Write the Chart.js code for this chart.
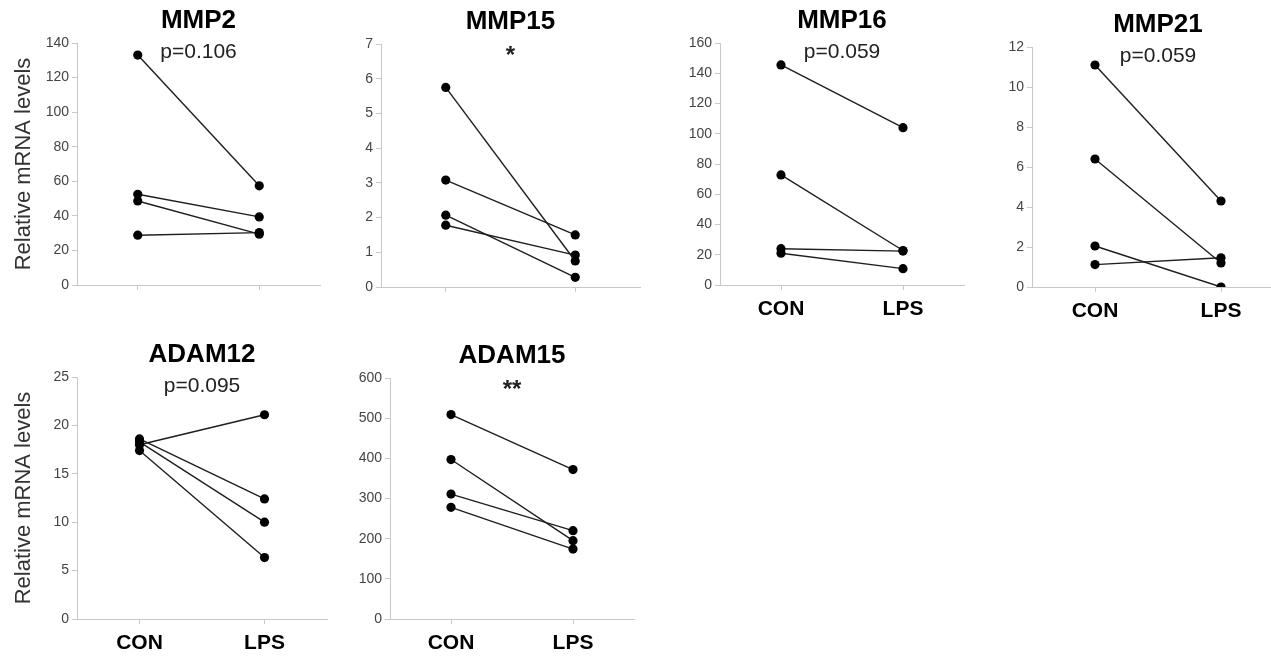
<!DOCTYPE html>
<html>
<head>
<meta charset="utf-8">
<script src="https://cdn.jsdelivr.net/npm/chart.js@4.4.1/dist/chart.umd.min.js"></script>
<style>
body{margin:0;background:#fff;overflow:hidden}
#wrap{position:relative;width:1271px;height:658px;overflow:hidden;background:#fff}
canvas{position:absolute}
</style>
</head>
<body>
<div id="wrap"></div>
<script>
// data: each row = one sample, [CON, LPS]
const groups = ["CON", "LPS"];
const genes = ["MMP2", "MMP15", "MMP16", "MMP21", "ADAM12", "ADAM15"];
const notes = ["p=0.106", "*", "p=0.059", "p=0.059", "p=0.095", "**"];
const yMax = [140, 7, 160, 12, 25, 600];
const ySteps = [20, 1, 20, 2, 5, 100];

const mmp2 = [[133, 57.4], [52.5, 39.4], [48.6, 29.4], [28.8, 30.3]];
const mmp15 = [[5.75, 0.75], [3.08, 1.5], [2.07, 0.28], [1.78, 0.92]];
const mmp16 = [[145.5, 104], [72.8, 22.8], [24, 22.4], [21, 10.8]];
const mmp21 = [[11.1, 4.3], [6.4, 1.2], [2.05, 0], [1.12, 1.46]];
const adam12 = [[18.0, 21.1], [18.6, 12.4], [18.3, 10.0], [17.4, 6.35]];
const adam15 = [[509, 372], [397, 195], [311, 220], [278, 174]];
const series = [mmp2, mmp15, mmp16, mmp21, adam12, adam15];

// layout: plot area of each panel (left, top, right, bottom) in page pixels
const areas = [
    [77, 43, 320, 285],
    [381, 44, 640, 287],
    [720, 43, 964, 285],
    [1032, 47, 1284, 287],
    [77, 377, 327, 619],
    [390, 378, 634, 619]
];
const showX = [false, false, true, true, true, true];
const showYTitle = [true, false, false, false, true, false];

const FONT = '"Liberation Sans", Arial, Helvetica, sans-serif';
Chart.defaults.font.family = FONT;

const YW = 77, TOPPAD = 43, RIGHTPAD = 10, XH = 40;

// gene name + p value / stars drawn over the top of each plot
const panelText = {
    id: "panelText",
    afterDraw(chart, args, opts) {
        const ctx = chart.ctx, a = chart.chartArea;
        const cx = (a.left + a.right) / 2;
        ctx.save();
        ctx.textAlign = "center";
        ctx.textBaseline = "middle";
        ctx.fillStyle = "#000";
        ctx.font = "bold 26px " + FONT;
        ctx.fillText(opts.title, cx, a.top - 22);
        ctx.fillStyle = "#222";
        if (opts.note.charAt(0) === "*") {
            ctx.font = "bold 24px " + FONT;
            ctx.fillText(opts.note, cx, a.top + 12);
        } else {
            ctx.font = "21px " + FONT;
            ctx.fillText(opts.note, cx, a.top + 9);
        }
        ctx.restore();
    }
};

const wrap = document.getElementById("wrap");

series.forEach(function(rows, i){
    const ar = areas[i];
    const canvas = document.createElement("canvas");
    const w = ar[2] - ar[0] + YW + RIGHTPAD;
    const h = ar[3] - ar[1] + TOPPAD + XH;
    canvas.width = w;
    canvas.height = h;
    canvas.style.left = (ar[0] - YW) + "px";
    canvas.style.top = (ar[1] - TOPPAD) + "px";
    canvas.style.width = w + "px";
    canvas.style.height = h + "px";
    wrap.appendChild(canvas);

    new Chart(canvas, {
        type: "line",
        data: {
            labels: groups,
            datasets: rows.map(function(r){
                return {
                    data: r,
                    borderColor: "#1e1e1e",
                    borderWidth: 1.4,
                    tension: 0,
                    pointRadius: 4.6,
                    pointBackgroundColor: "#000",
                    pointBorderWidth: 0,
                    fill: false
                };
            })
        },
        options: {
            responsive: false,
            animation: false,
            events: [],
            layout: { padding: { left: 0, top: TOPPAD, right: RIGHTPAD, bottom: 0 } },
            plugins: {
                legend: { display: false },
                tooltip: { enabled: false },
                panelText: { title: genes[i], note: notes[i] }
            },
            scales: {
                x: {
                    type: "category",
                    offset: true,
                    grid: { drawOnChartArea: false, tickLength: 5, color: "#c8c8c8" },
                    border: { color: "#c8c8c8" },
                    ticks: {
                        display: showX[i],
                        color: "#000",
                        font: { size: 21, weight: "bold" },
                        padding: 7
                    },
                    afterFit: function(s){ s.height = XH; }
                },
                y: {
                    min: 0,
                    max: yMax[i],
                    grid: { drawOnChartArea: false, tickLength: 5, color: "#c8c8c8" },
                    border: { color: "#c8c8c8" },
                    ticks: { stepSize: ySteps[i], color: "#444", font: { size: 14 }, padding: 3 },
                    title: {
                        display: showYTitle[i],
                        text: "Relative mRNA levels",
                        color: "#333",
                        font: { size: 22 },
                        padding: { top: 11, bottom: 0 }
                    },
                    afterFit: function(s){ s.width = YW; }
                }
            }
        },
        plugins: [panelText]
    });
});
</script>
</body>
</html>
